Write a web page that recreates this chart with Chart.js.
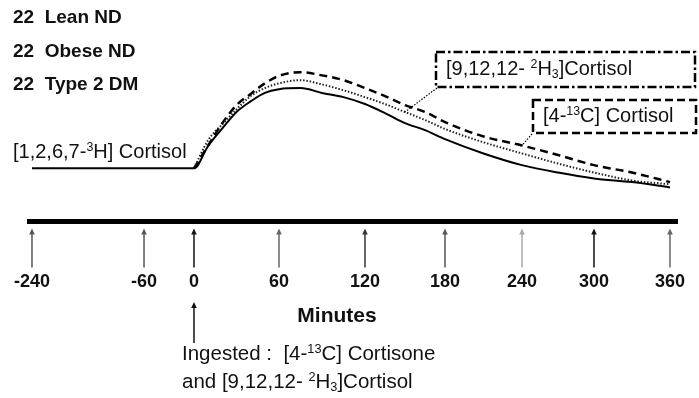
<!DOCTYPE html>
<html>
<head>
<meta charset="utf-8">
<script src="https://cdn.jsdelivr.net/npm/chart.js@4/dist/chart.umd.min.js"></script>
<style>
  html, body { margin: 0; padding: 0; background: #fff; }
  #wrap { width: 699px; height: 398px; }
</style>
</head>
<body>
<div id="wrap"><canvas id="chart" width="699" height="398"></canvas></div>
<script>
// sampling times (minutes) and tracer levels, arbitrary units
const tickMinutes = [-240, -60, 0, 60, 120, 180, 240, 300, 360];
const preDoseMinutes = [-240, -60];
const preDoseLevel = [10, 10];
const minutes = [0, 10, 20, 30, 40, 50, 60, 75, 90, 105, 120, 135, 150, 165, 180, 210, 240, 270, 300, 330, 360];
const tritiated = [10, 14.2, 17.5, 20.6, 22.6, 24.2, 24.9, 25.1, 24.2, 23.4, 22.1, 20.4, 18.5, 17.2, 15.5, 12.8, 10.6, 9.2, 8.1, 7.4, 6.4];
const deuterated = [10, 15.3, 18.3, 21.1, 23.6, 25.1, 26.0, 26.6, 25.8, 24.7, 23.4, 22.1, 20.6, 19.1, 17.4, 14.9, 12.8, 10.9, 9.2, 7.7, 7.0];
const carbon13 = [10, 14.3, 18.5, 21.9, 24.0, 26.0, 27.4, 28.1, 27.5, 26.6, 25.1, 23.6, 21.9, 20.6, 18.7, 16.0, 14.3, 12.5, 10.6, 9.2, 7.4];
const groups = ["22  Lean ND", "22  Obese ND", "22  Type 2 DM"];

const FONT = '"Liberation Sans", Arial, sans-serif';
const INK = "#111";

// the time axis is drawn broken: pre-dose hours squeezed, post-dose stretched
const axisSpots = [0.0046, 0.1775, 0.2546, 0.3858, 0.5185, 0.642, 0.7608, 0.8719, 0.9892];

function toDecimal(v) {
    const n = tickMinutes.length;
    let i = 0;
    if (v <= tickMinutes[0]) i = 0;
    else if (v >= tickMinutes[n - 1]) i = n - 2;
    else while (v > tickMinutes[i + 1]) i++;
    const t = (v - tickMinutes[i]) / (tickMinutes[i + 1] - tickMinutes[i]);
    return axisSpots[i] + t * (axisSpots[i + 1] - axisSpots[i]);
}

function fromDecimal(d) {
    const n = axisSpots.length;
    let i = 0;
    if (d <= axisSpots[0]) i = 0;
    else if (d >= axisSpots[n - 1]) i = n - 2;
    else while (d > axisSpots[i + 1]) i++;
    const t = (d - axisSpots[i]) / (axisSpots[i + 1] - axisSpots[i]);
    return tickMinutes[i] + t * (tickMinutes[i + 1] - tickMinutes[i]);
}

class BrokenTimeScale extends Chart.LinearScale {
    buildTicks() {
        return tickMinutes.map(v => ({ value: v }));
    }
    getPixelForValue(value) {
        return value === null ? NaN : this.getPixelForDecimal(toDecimal(value));
    }
    getValueForPixel(pixel) {
        return fromDecimal(this.getDecimalForPixel(pixel));
    }
}
BrokenTimeScale.id = "brokenTime";
BrokenTimeScale.defaults = Chart.LinearScale.defaults;
Chart.register(BrokenTimeScale);

function pairs(xs, ys) {
    return xs.map((x, i) => ({ x: x, y: ys[i] }));
}

// text with ^{..} superscripts and _{..} subscripts
function drawRich(ctx, text, x, y, size, weight) {
    ctx.textBaseline = "middle";
    ctx.textAlign = "left";
    ctx.fillStyle = INK;
    text.split(/(\^\{[^}]*\}|_\{[^}]*\})/).forEach(part => {
        if (!part) return;
        let s = size, dy = 0, t = part;
        if (part[0] === "^" && part[1] === "{") { t = part.slice(2, -1); s = size * 0.62; dy = -size * 0.24; }
        else if (part[0] === "_" && part[1] === "{") { t = part.slice(2, -1); s = size * 0.62; dy = size * 0.26; }
        ctx.font = weight + " " + s + "px " + FONT;
        ctx.fillText(t, x, y + dy);
        x += ctx.measureText(t).width;
    });
}

function arrowUp(ctx, x, yTip, yEnd, color) {
    ctx.save();
    ctx.strokeStyle = color;
    ctx.fillStyle = color;
    ctx.lineWidth = 1.5;
    ctx.beginPath();
    ctx.moveTo(x, yEnd);
    ctx.lineTo(x, yTip + 4);
    ctx.stroke();
    ctx.beginPath();
    ctx.moveTo(x, yTip);
    ctx.lineTo(x - 2.8, yTip + 6);
    ctx.lineTo(x + 2.8, yTip + 6);
    ctx.closePath();
    ctx.fill();
    ctx.restore();
}

function callout(ctx, box, dash, label, from, to) {
    ctx.save();
    ctx.strokeStyle = "#000";
    ctx.lineWidth = 2.5;
    ctx.setLineDash(dash);
    ctx.strokeRect(box.x, box.y, box.w, box.h);
    ctx.lineWidth = 1.2;
    ctx.setLineDash([1.5, 1.5]);
    ctx.beginPath();
    ctx.moveTo(from.x, from.y);
    ctx.lineTo(to.x, to.y);
    ctx.stroke();
    ctx.restore();
    drawRich(ctx, label, box.x + 10, box.y + box.h / 2, 20, "normal");
}

const arrowShades = ["#555", "#555", "#111", "#666", "#333", "#555", "#aaa", "#111", "#666"];

const notes = {
    id: "notes",
    afterDraw(chart) {
        const ctx = chart.ctx;
        const xs = chart.scales.x;
        const axisY = chart.chartArea.bottom;

        // upward arrows under each time mark
        tickMinutes.forEach((m, i) => {
            arrowUp(ctx, xs.getPixelForTick(i), axisY + 7, axisY + 46, arrowShades[i]);
        });

        ctx.save();
        ctx.fillStyle = INK;
        ctx.textAlign = "center";
        ctx.textBaseline = "middle";
        ctx.font = "bold 21px " + FONT;
        ctx.fillText("Minutes", 337, 316);
        ctx.restore();

        // dose given at time zero
        const x0 = xs.getPixelForValue(0);
        arrowUp(ctx, x0, 302, 343, "#111");
        drawRich(ctx, "Ingested :  [4-^{13}C] Cortisone", x0 - 12, 354, 20.5, "normal");
        drawRich(ctx, "and [9,12,12- ^{2}H_{3}]Cortisol", x0 - 12, 382, 20.5, "normal");

        groups.forEach((g, i) => drawRich(ctx, g, 13, [18, 52, 85][i], 19, "bold"));

        drawRich(ctx, "[1,2,6,7-^{3}H] Cortisol", 13, 152, 20, "normal");

        const dotted = chart.getDatasetMeta(1).data[minutes.indexOf(150)];
        callout(ctx, { x: 436, y: 52, w: 259, h: 35 }, [9, 3, 2.5, 3],
            "[9,12,12- ^{2}H_{3}]Cortisol", { x: 437, y: 88 }, { x: dotted.x, y: dotted.y });

        const dashed = chart.getDatasetMeta(2).data[minutes.indexOf(240)];
        callout(ctx, { x: 533, y: 100, w: 163, h: 33 }, [8, 4],
            "[4-^{13}C] Cortisol", { x: 532, y: 134 }, { x: dashed.x, y: dashed.y });
    }
};

new Chart(document.getElementById("chart"), {
    type: "line",
    data: {
        datasets: [{
            label: "[1,2,6,7-3H] Cortisol",
            data: pairs(preDoseMinutes.concat(minutes), preDoseLevel.concat(tritiated)),
            borderColor: "#000",
            borderWidth: 2
        }, {
            label: "[9,12,12-2H3]Cortisol",
            data: pairs(minutes, deuterated),
            borderColor: "#222",
            borderWidth: 2,
            borderDash: [1.5, 1.8]
        }, {
            label: "[4-13C] Cortisol",
            data: pairs(minutes, carbon13),
            borderColor: "#000",
            borderWidth: 2.5,
            borderDash: [8, 5]
        }]
    },
    options: {
        responsive: false,
        animation: false,
        events: [],
        layout: { padding: { left: 29, right: 22, top: 9, bottom: 99 } },
        elements: {
            point: { radius: 0 },
            line: { cubicInterpolationMode: "monotone", fill: false }
        },
        plugins: {
            legend: { display: false },
            tooltip: { enabled: false }
        },
        scales: {
            x: {
                type: "brokenTime",
                min: -240,
                max: 360,
                grid: { display: true, drawOnChartArea: false, drawTicks: true, tickLength: 44, tickColor: "rgba(0,0,0,0)" },
                border: { display: true, color: "#000", width: 5 },
                ticks: {
                    autoSkip: false,
                    maxRotation: 0,
                    padding: 6,
                    color: INK,
                    font: { family: FONT, size: 18, weight: "bold" },
                    callback: v => String(v)
                }
            },
            y: {
                display: false,
                min: 0,
                max: 40
            }
        }
    },
    plugins: [notes]
});
</script>
</body>
</html>
